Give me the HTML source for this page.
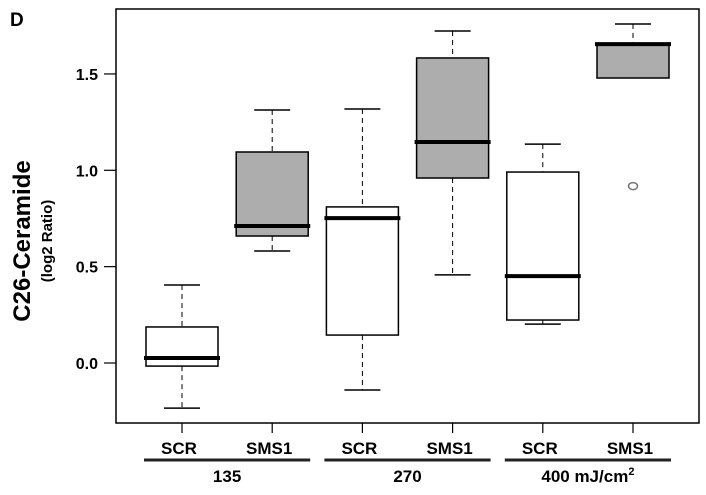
<!DOCTYPE html>
<html><head><meta charset="utf-8"><style>
body{margin:0;background:#fff;width:706px;height:490px;overflow:hidden}
text{font-family:"Liberation Sans",Arial,sans-serif;font-weight:bold}
</style></head><body>
<svg id="chart" width="706" height="490">
<text x="10" y="26" font-size="19">D</text>
<rect x="116" y="9" width="583" height="414" fill="none" stroke="#000" stroke-width="1.5"/>
<text transform="translate(30,241) rotate(-90)" text-anchor="middle" font-size="24">C26-Ceramide</text>
<text transform="translate(52,241) rotate(-90)" text-anchor="middle" font-size="15">(log2 Ratio)</text>
<g id="yaxis"></g><g id="boxes"></g><g id="xaxis"></g>
</svg>
<script>
const categories=["SCR","SMS1","SCR","SMS1","SCR","SMS1"];
const groups=["135","270","400 mJ/cm"];
const mins=[-0.234,0.581,-0.14,0.457,0.202,1.479];
const q1s=[-0.016,0.659,0.145,0.96,0.223,1.479];
const medians=[0.026,0.711,0.752,1.147,0.451,1.655];
const q3s=[0.187,1.095,0.81,1.583,0.991,1.655];
const maxs=[0.405,1.313,1.318,1.723,1.136,1.759];
const outliers=[[],[],[],[],[],[0.918]];
const yTicks=[0,0.5,1.0,1.5];
const yTickLabels=["0.0","0.5","1.0","1.5"];
const NS="http://www.w3.org/2000/svg";
const y=v=>363-v*192.7;
const x=i=>182+i*90.2;
function mk(p,t,a){const e=document.createElementNS(NS,t);for(const k in a)e.setAttribute(k,a[k]);p.appendChild(e);return e;}
const ya=document.getElementById('yaxis'),bx=document.getElementById('boxes'),xa=document.getElementById('xaxis');
yTicks.forEach((v,i)=>{
 const l=mk(ya,'line',{x1:104,x2:116,y1:y(v),y2:y(v),stroke:'#000','stroke-width':1.2});
 
 
 const t=mk(ya,'text',{x:98,y:y(v)+6,'text-anchor':'end','font-size':16});t.textContent=yTickLabels[i];
 
 
});
categories.forEach((c,i)=>{
 const cx=x(i),hw=36,fill=i%2?'#adadad':'#fff';
 const g=mk(bx,'g',{});
 
 
 if(maxs[i]>q3s[i]){mk(g,'line',{x1:cx,x2:cx,y1:y(maxs[i]),y2:y(q3s[i]),stroke:'#000','stroke-dasharray':'5,4'});}
 mk(g,'line',{x1:cx-18,x2:cx+18,y1:y(maxs[i]),y2:y(maxs[i]),stroke:'#000','stroke-width':1.5});
 if(mins[i]<q1s[i]){mk(g,'line',{x1:cx,x2:cx,y1:y(q1s[i]),y2:y(mins[i]),stroke:'#000','stroke-dasharray':'5,4'});
 mk(g,'line',{x1:cx-18,x2:cx+18,y1:y(mins[i]),y2:y(mins[i]),stroke:'#000','stroke-width':1.5});}
 mk(g,'rect',{x:cx-hw,y:y(q3s[i]),width:2*hw,height:y(q1s[i])-y(q3s[i]),fill:fill,stroke:'#000','stroke-width':1.5});
 mk(g,'line',{x1:cx-38,x2:cx+38,y1:y(medians[i]),y2:y(medians[i]),stroke:'#000','stroke-width':4});
 outliers[i].forEach(o=>{const c2=mk(g,'ellipse',{cx:cx,cy:y(o),rx:4.5,ry:3.5,fill:'none',stroke:'#777','stroke-width':1.5});
  
  });
 const tk=mk(xa,'line',{x1:cx,x2:cx,y1:423,y2:433,stroke:'#000','stroke-width':1.2});
 
 
 const t=mk(xa,'text',{x:cx-3,y:454,'text-anchor':'middle','font-size':17});t.textContent=c;
 
 
});
groups.forEach((gname,j)=>{
 const x0=x(2*j)-38,x1=x(2*j+1)+38;
 const l=mk(xa,'line',{x1:x0,x2:x1,y1:460,y2:460,stroke:'#222','stroke-width':3});
 
 
 const t=mk(xa,'text',{x:(x0+x1)/2,y:482,'text-anchor':'middle','font-size':17});t.textContent=gname;
 if(j==2){const s=mk(t,'tspan',{'font-size':11,dy:-7});s.textContent='2';}
 
 
});
</script>
</body></html>
